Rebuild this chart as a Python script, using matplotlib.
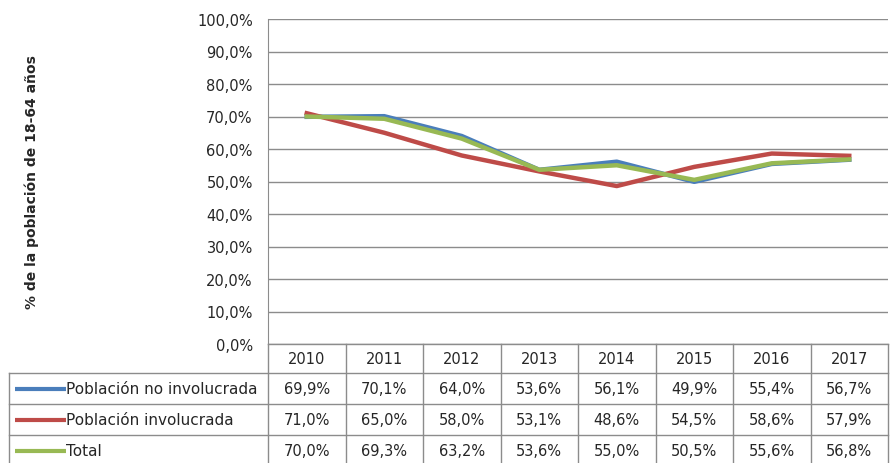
import matplotlib
matplotlib.use("Agg")
import matplotlib.pyplot as plt
from matplotlib.lines import Line2D

years = ["2010", "2011", "2012", "2013", "2014", "2015", "2016", "2017"]
no_involucrada = [69.9, 70.1, 64.0, 53.6, 56.1, 49.9, 55.4, 56.7]
involucrada = [71.0, 65.0, 58.0, 53.1, 48.6, 54.5, 58.6, 57.9]
total = [70.0, 69.3, 63.2, 53.6, 55.0, 50.5, 55.6, 56.8]
series_names = ["Población no involucrada", "Población involucrada", "Total"]
series_colors = ["#4A7EBB", "#BE4B48", "#98B954"]
y_ticks = [0, 10, 20, 30, 40, 50, 60, 70, 80, 90, 100]
y_label = "% de la población de 18-64 años"

plt.rcParams['font.family'] = ['DejaVu Sans']
TXT = "#262626"
GRID = "#8C8C8C"
FS = 10.5

W, H = 891, 464
fig = plt.figure(figsize=(W / 100, H / 100), dpi=100)

# pixel layout
L, R, T, B = 268, 888, 20, 345
TL = 9
row_lines = [345, 374, 405, 436, 467]

ax = fig.add_axes([L / W, 1 - B / H, (R - L) / W, (B - T) / H])
ax.set_xlim(-0.5, len(years) - 0.5)
ax.set_ylim(0, 100)
ax.set_yticks(y_ticks)
ax.set_yticklabels([f"{v:.1f}%".replace(".", ",") for v in y_ticks], fontsize=FS, color=TXT)
ax.set_xticks([])
ax.grid(axis="y", color=GRID, linewidth=1)
ax.set_axisbelow(True)
for s in ["top", "right", "bottom"]:
    ax.spines[s].set_visible(False)
ax.spines["left"].set_color(GRID)
ax.tick_params(axis="y", length=0, pad=11)

all_series = [no_involucrada, involucrada, total]
x = list(range(len(years)))
for vals, c in zip(all_series, series_colors):
    ax.plot(x, vals, color=c, linewidth=3.2, solid_joinstyle="round", zorder=3)

fig.text(32 / W, 1 - 182 / H, y_label, rotation=90, ha="center", va="center",
         fontsize=10, fontweight="bold", color=TXT)

# table overlay
tax = fig.add_axes([0, 0, 1, 1])
tax.set_xlim(0, W)
tax.set_ylim(H, 0)
tax.axis("off")
tax.patch.set_alpha(0)

ncol = len(years)
cw = (R - L) / ncol
col_edges = [L + i * cw for i in range(ncol + 1)]
lw = 1.0
tax.add_line(Line2D([L, R], [row_lines[0]] * 2, color=GRID, lw=lw))
for yl in row_lines[1:4]:
    tax.add_line(Line2D([TL, R], [yl] * 2, color=GRID, lw=lw))
for xe in col_edges:
    tax.add_line(Line2D([xe, xe], [row_lines[0], H], color=GRID, lw=lw))
tax.add_line(Line2D([TL, TL], [row_lines[1], H], color=GRID, lw=lw))

for i, yr in enumerate(years):
    tax.text(L + (i + 0.5) * cw, (row_lines[0] + row_lines[1]) / 2, yr,
             ha="center", va="center", fontsize=FS, color=TXT)

for r, (name, vals, c) in enumerate(zip(series_names, all_series, series_colors)):
    yc = (row_lines[r + 1] + row_lines[r + 2]) / 2
    tax.add_line(Line2D([15, 66], [yc, yc], color=c, lw=3.0, solid_capstyle="butt"))
    tax.text(66, yc, name, ha="left", va="center", fontsize=11, color=TXT)
    for i, v in enumerate(vals):
        tax.text(L + (i + 0.5) * cw, yc, f"{v:.1f}%".replace(".", ","),
                 ha="center", va="center", fontsize=FS, color=TXT)

fig.savefig("out.png", dpi=100, facecolor="white")
